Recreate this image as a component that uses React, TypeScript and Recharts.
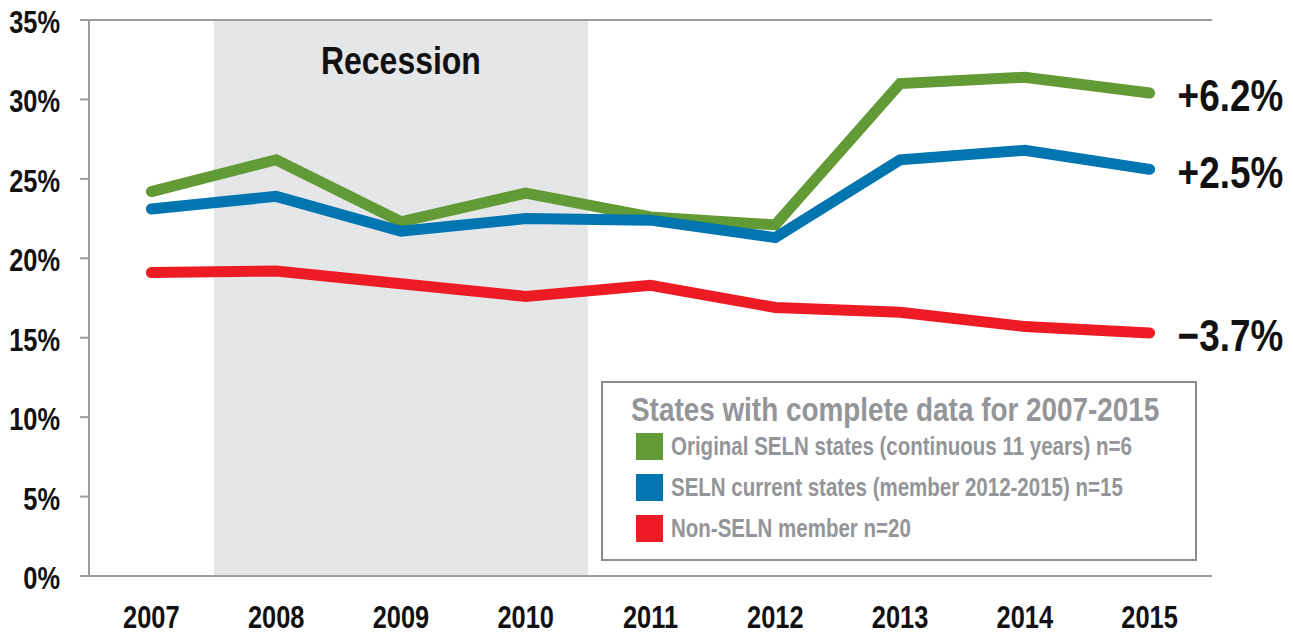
import React from "react";
import {
  LineChart,
  Line,
  XAxis,
  YAxis,
  ReferenceArea,
  ReferenceLine,
  Legend,
} from "recharts";

const years = [2007, 2008, 2009, 2010, 2011, 2012, 2013, 2014, 2015];
const originalSeln = [24.2, 26.2, 22.3, 24.1, 22.6, 22.1, 31.0, 31.4, 30.4];
const selnCurrent = [23.1, 23.9, 21.7, 22.5, 22.4, 21.3, 26.2, 26.8, 25.6];
const nonSeln = [19.1, 19.2, 18.4, 17.6, 18.3, 16.9, 16.6, 15.7, 15.3];
const yTicks = [0, 5, 10, 15, 20, 25, 30, 35];
const endLabels = ["+6.2%", "+2.5%", "\u22123.7%"];
const seriesNames = [
  "Original SELN states (continuous 11 years) n=6",
  "SELN current states (member 2012-2015) n=15",
  "Non-SELN member n=20",
];
const seriesColors = ["#629a35", "#0075b0", "#ed1c24"];
const legendTitle = "States with complete data for 2007-2015";
const recessionFrom = 2008;
const recessionTo = 2010;

const FONT = "'Liberation Sans', Arial, sans-serif";
const AXIS = "#9d9d9d";
// no condensed face installed, so squeeze the text horizontally
const squeeze = (origin: string) => ({
  transform: "scaleX(0.82)",
  transformBox: "fill-box",
  transformOrigin: origin,
});

const data = years.map((year, i) => ({
  year,
  original: originalSeln[i],
  current: selnCurrent[i],
  non: nonSeln[i],
}));

const keys = ["original", "current", "non"];
const bandTicks = [...years.map((y) => y - 0.5), years[years.length - 1] + 0.5];
const xDomain = [bandTicks[0], bandTicks[bandTicks.length - 1]];

const endLabel = (text: string) => (props: any) => {
  const { x, y, index } = props;
  if (index !== years.length - 1) return null;
  return (
    <text
      x={x + 28}
      y={y + 3}
      dominantBaseline="central"
      fontSize={45}
      fontWeight={700}
      fill="#111"
      style={squeeze("left center")}
    >
      {text}
    </text>
  );
};

const LegendBox = () => (
  <div
    style={{
      boxSizing: "border-box",
      width: 596,
      height: 180,
      border: "2px solid #8c8c8c",
      background: "#fff",
      padding: "7px 0 0 33px",
      color: "#939598",
      textAlign: "left",
      whiteSpace: "nowrap",
      overflow: "hidden",
    }}
  >
    <div style={{ fontSize: 34, fontWeight: 700, lineHeight: "38px", marginBottom: -2, marginLeft: -5 }}>
      <span style={{ display: "inline-block", ...squeeze("left center") }}>{legendTitle}</span>
    </div>
    {seriesNames.map((name, i) => (
      <div
        key={name}
        style={{ display: "flex", alignItems: "center", height: 41, fontSize: 25, fontWeight: 700 }}
      >
        <span
          style={{
            display: "inline-block",
            flexShrink: 0,
            width: 27,
            height: 27,
            background: seriesColors[i],
            marginRight: 8,
          }}
        />
        <span style={{ display: "inline-block", ...squeeze("left center") }}>{name}</span>
      </div>
    ))}
  </div>
);

export default function App() {
  return (
    <div
      style={{
        position: "absolute",
        left: 0,
        top: 0,
        background: "#fff",
        fontFamily: FONT,
      }}
    >
      <LineChart
        width={1293}
        height={637}
        data={data}
        margin={{ top: 20, right: 81, left: 0, bottom: 0 }}
      >
        <ReferenceArea
          xAxisId="a"
          x1={recessionFrom - 0.5}
          x2={recessionTo + 0.5}
          y1={0}
          y2={35}
          fill="#e5e6e8"
          fillOpacity={1}
          stroke="none"
          label={{
            value: "Recession",
            position: "insideTop",
            offset: 26,
            fontSize: 39,
            fontWeight: 700,
            fill: "#111",
            style: squeeze("center"),
          }}
        />
        <XAxis
          xAxisId="b"
          dataKey="year"
          type="number"
          domain={xDomain}
          ticks={years}
          interval={0}
          axisLine={false}
          tickLine={false}
          tickSize={0}
          tickMargin={20}
          height={51}
          tick={{ fontSize: 31, fontWeight: 700, fill: "#111", style: squeeze("center") }}
        />
        <XAxis
          xAxisId="a"
          dataKey="year"
          type="number"
          domain={xDomain}
          ticks={bandTicks}
          tick={false}
          tickSize={8}
          height={10}
          axisLine={{ stroke: AXIS, strokeWidth: 2 }}
          tickLine={{ stroke: AXIS, strokeWidth: 2 }}
        />
        <YAxis
          domain={[0, 35]}
          ticks={yTicks}
          interval={0}
          width={89}
          tickSize={9}
          tickMargin={20}
          tickFormatter={(v: number) => `${v}%`}
          axisLine={{ stroke: AXIS, strokeWidth: 2 }}
          tickLine={{ stroke: AXIS, strokeWidth: 2 }}
          tick={{ fontSize: 31, fontWeight: 700, fill: "#111", dy: 2, style: squeeze("right center") }}
        />
        <ReferenceLine xAxisId="a" y={35} stroke={AXIS} strokeWidth={2} />
        {keys.map((k, i) => (
          <Line
            key={k}
            xAxisId="a"
            dataKey={k}
            name={seriesNames[i]}
            stroke={seriesColors[i]}
            strokeWidth={11}
            strokeLinecap="round"
            strokeLinejoin="miter"
            dot={false}
            activeDot={false}
            isAnimationActive={false}
            label={endLabel(endLabels[i])}
          />
        ))}
        <Legend
          layout="horizontal"
          verticalAlign="middle"
          align="center"
          content={() => <LegendBox />}
          wrapperStyle={{ left: 601, top: 381, width: 596, height: 180 }}
        />
      </LineChart>
    </div>
  );
}
